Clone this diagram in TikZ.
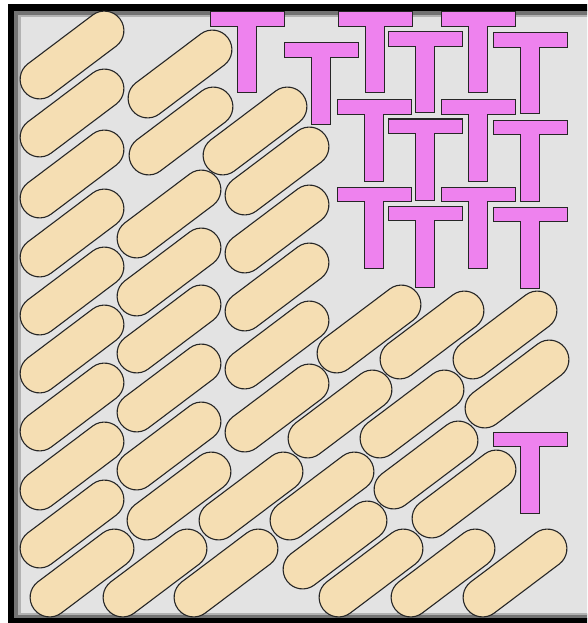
\documentclass[tikz,border=0pt]{standalone}
\definecolor{capfill}{RGB}{245,222,179}
\definecolor{teefill}{RGB}{238,130,238}
\definecolor{boxfill}{RGB}{227,227,227}
\tikzset{
  capsule/.style={fill=capfill,draw=black!85,line width=1.1pt,rounded corners=19.4pt},
  tee/.style={fill=teefill,draw=black!85,line width=1pt}
}
\begin{document}
\begin{tikzpicture}[x=1pt,y=-1pt,line join=miter]
  \useasboundingbox (0,0) rectangle (587,623);
  \clip (0,0) rectangle (587,623);
  \fill[boxfill] (8,4) rectangle (600,630);
  % frame
  \draw[line width=5pt,black!55] (600,13) -- (16.5,13) -- (16.5,616.5) -- (600,616.5);
  \draw[line width=2.5pt,black!30] (600,16) -- (19.5,16) -- (19.5,614) -- (600,614);
  \draw[line width=6.5pt] (600,7.5) -- (11,7.5) -- (11,621) -- (600,621);
  % capsules
  \foreach \cx/\cy in {72/55,72/113,72/174,72/233,72/291,72/349,72/407,72/466,72/524,82/573,
      180/74,181/131,169/214,169/272,169/329,169/388,169/446,179/496,155/573,
      255/131,277/171,277/229,277/287,277/345,277/408,251/496,226/573,
      369/329,432/335,505/335,517/384,340/414,412/414,426/465,322/496,464/494,
      335/545,371/573,443/573,515/573}
    \draw[capsule,shift={(\cx,\cy)},rotate=37] (-60,-19.5) rectangle (60,19.5);
  % tees
  \foreach \tx/\ty in {210/12,284/43,338/12,388/32,441/12,493/33,
      337/100,388/119,441/100,493/120,337/187,388/206,441/187,493/207,493/432}
    \draw[tee] (\tx,\ty) -- ++(74,0) -- ++(0,14.5) -- ++(-27.5,0) -- ++(0,66.5)
      -- ++(-19,0) -- ++(0,-66.5) -- ++(-27.5,0) -- cycle;
\end{tikzpicture}
\end{document}
